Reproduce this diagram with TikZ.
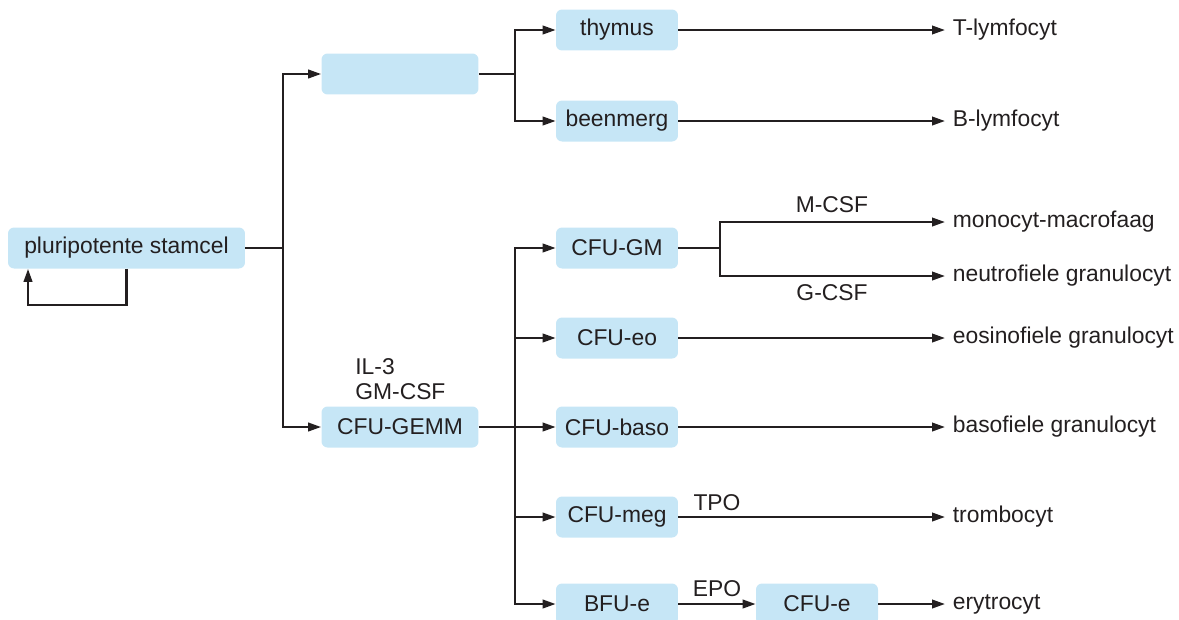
\documentclass[tikz,border=0pt]{standalone}
\usepackage{fontspec}
\setmainfont{Liberation Sans}
\usepackage{xcolor}
\usetikzlibrary{arrows.meta}
\definecolor{cellfill}{RGB}{198,230,246}
\definecolor{inkcolor}{RGB}{35,31,32}

\begin{document}
\begin{tikzpicture}[
    x=0.02cm, y=-0.02cm,
    >={Triangle[length=2.6mm, width=1.7mm]},
    every node/.style={font=\fontsize{13}{14}\selectfont, text=inkcolor},
    cell/.style={fill=cellfill, rounded corners=1.2mm, minimum width=2.44cm, minimum height=0.82cm, inner sep=0pt},
    fate/.style={anchor=west, inner sep=1.5mm},
    factor/.style={inner sep=0pt},
    link/.style={line width=1.3pt, draw=inkcolor},
]
    \useasboundingbox (0,0) rectangle (1179,619);

    % cells
    \node[cell, minimum width=4.74cm] (stam) at (126.5,248) {pluripotente stamcel};
    \node[cell, minimum width=3.14cm] (lymph) at (400,74) {};
    \node[cell, minimum width=3.14cm] (gemm) at (400,427) {CFU-GEMM};
    \node[cell] (thy) at (617,30) {thymus};
    \node[cell] (bone) at (617,121) {beenmerg};
    \node[cell] (gm) at (617,248) {CFU-GM};
    \node[cell] (eo) at (617,338) {CFU-eo};
    \node[cell] (baso) at (617,427) {CFU-baso};
    \node[cell] (meg) at (617,517) {CFU-meg};
    \node[cell] (bfue) at (617,604) {BFU-e};
    \node[cell] (cfue) at (817,604) {CFU-e};

    % end products
    \node[fate] (tly) at (945,30) {T-lymfocyt};
    \node[fate] (bly) at (945,121) {B-lymfocyt};
    \node[fate] (mono) at (945,222) {monocyt-macrofaag};
    \node[fate] (neut) at (945,276) {neutrofiele granulocyt};
    \node[fate] (eos) at (945,338) {eosinofiele granulocyt};
    \node[fate] (bas) at (945,427) {basofiele granulocyt};
    \node[fate] (thr) at (945,517) {trombocyt};
    \node[fate] (ery) at (945,604) {erytrocyt};

    % growth factors
    \node[factor, anchor=west, align=left] (il3) at (355,379) {IL-3\\GM-CSF};
    \node[factor] (mcsf) at (832,205) {M-CSF};
    \node[factor] (gcsf) at (832,293) {G-CSF};
    \node[factor] (tpo) at (717,503) {TPO};
    \node[factor] (epo) at (717,589) {EPO};

    % junctions
    \coordinate (j1) at (283,248);
    \coordinate (j2) at (515,74);
    \coordinate (j3) at (515,427);
    \coordinate (j4) at (720,248);
    \coordinate (loop) at (28,305);

    % self renewal
    \draw[link, ->] (stam.south) |- (loop) -- (loop |- stam.south);

    \draw[link] (stam) -- (j1);
    \draw[link, ->] (j1) |- (lymph.west);
    \draw[link, ->] (j1) |- (gemm.west);

    \draw[link] (lymph) -- (j2);
    \draw[link, ->] (j2) |- (thy.west);
    \draw[link, ->] (j2) |- (bone.west);
    \draw[link, ->] (thy) -- (tly);
    \draw[link, ->] (bone) -- (bly);

    \draw[link] (gemm) -- (j3);
    \draw[link, ->] (j3) |- (gm.west);
    \draw[link, ->] (j3) |- (eo.west);
    \draw[link, ->] (j3) -- (baso.west);
    \draw[link, ->] (j3) |- (meg.west);
    \draw[link, ->] (j3) |- (bfue.west);

    \draw[link] (gm) -- (j4);
    \draw[link, ->] (j4) |- (mono.west);
    \draw[link, ->] (j4) |- (neut.west);
    \draw[link, ->] (eo) -- (eos);
    \draw[link, ->] (baso) -- (bas);
    \draw[link, ->] (meg) -- (thr);
    \draw[link, ->] (bfue) -- (cfue);
    \draw[link, ->] (cfue) -- (ery);
\end{tikzpicture}
\end{document}
